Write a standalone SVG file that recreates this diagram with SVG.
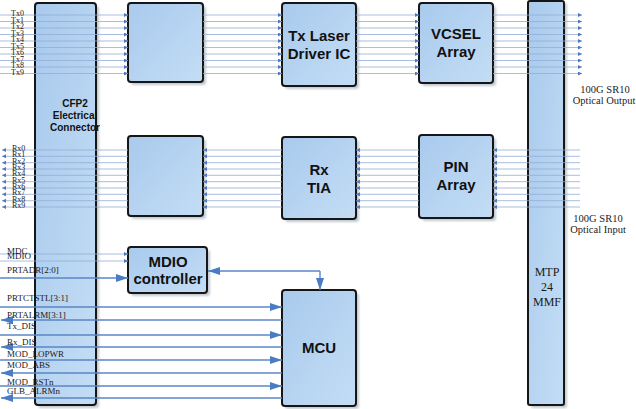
<svg xmlns="http://www.w3.org/2000/svg" width="636" height="409" viewBox="0 0 636 409">
<defs>
<linearGradient id="fill" x1="0" y1="0" x2="1" y2="1">
<stop offset="0" stop-color="#a8caed"/>
<stop offset="1" stop-color="#c4ddf5"/>
</linearGradient>
<filter id="blur" x="-10%" y="-10%" width="120%" height="120%"><feGaussianBlur stdDeviation="1.2"/></filter>
<marker id="sa" markerUnits="userSpaceOnUse" markerWidth="5" markerHeight="5" refX="4" refY="2" orient="auto"><path d="M0,0 L4,2 L0,4 z" fill="#4f78c0"/></marker>
<marker id="ba" markerUnits="userSpaceOnUse" markerWidth="13" markerHeight="9" refX="12" refY="4" orient="auto"><path d="M0,0 L12,4 L0,8 z" fill="#4a7cc4"/></marker>
</defs>
<style>
.box{fill:url(#fill);stroke:#161616;stroke-width:2}
.sh{fill:#9aa6b2;opacity:.6;filter:url(#blur)}
.lane{stroke:#94acd6;stroke-width:0.8;fill:none;marker-end:url(#sa)}
.sig{stroke:#5a86c6;stroke-width:1.4;fill:none;marker-end:url(#ba)}
.bl{font-family:"Liberation Sans",Arial,sans-serif;font-weight:bold;font-size:15px;fill:#111;text-anchor:middle}
.sl{font-family:"Liberation Serif","Times New Roman",serif;font-size:9px;fill:#1a1a1a}
.ln{font-family:"Liberation Serif","Times New Roman",serif;font-size:8px;fill:#1a1a1a}
.ol{font-family:"Liberation Serif","Times New Roman",serif;font-size:10.5px;fill:#222;text-anchor:middle}
</style>
<rect width="636" height="409" fill="#ffffff"/>

<g id="cfp2">
<rect class="sh" x="38" y="6" width="61" height="402" rx="3"/>
<rect class="box" x="35" y="3" width="61" height="402" rx="3"/>
<text class="bl" style="font-size:10px" x="75" y="107">CFP2</text>
<text class="bl" style="font-size:10px" x="75" y="119">Electrical</text>
<text class="bl" style="font-size:10px" x="75" y="131">Connector</text>
</g>
<g id="mtp">
<rect class="sh" x="531" y="3" width="36" height="405" rx="2"/>
<rect class="box" x="528" y="1" width="36" height="404" rx="2"/>
<text class="ol" style="font-size:12px;fill:#1a1a1a" x="547" y="276">MTP</text>
<text class="ol" style="font-size:12px;fill:#1a1a1a" x="547" y="291">24</text>
<text class="ol" style="font-size:12px;fill:#1a1a1a" x="547" y="306">MMF</text>
</g>
<g id="txser">
<rect class="sh" x="131" y="6" width="75" height="79" rx="3"/>
<rect class="box" x="128" y="3" width="75" height="79" rx="3"/>
</g>
<g id="txdrv">
<rect class="sh" x="285" y="6" width="74" height="83" rx="3"/>
<rect class="box" x="282" y="3" width="74" height="83" rx="3"/>
<text class="bl" x="319" y="40.5">Tx Laser</text>
<text class="bl" x="319" y="58.5">Driver IC</text>
</g>
<g id="vcsel">
<rect class="sh" x="422" y="6" width="74" height="80" rx="3"/>
<rect class="box" x="419" y="3" width="74" height="80" rx="3"/>
<text class="bl" x="456" y="38.5">VCSEL</text>
<text class="bl" x="456" y="57">Array</text>
</g>
<g id="rxser">
<rect class="sh" x="131" y="139" width="75" height="80" rx="3"/>
<rect class="box" x="128" y="136" width="75" height="80" rx="3"/>
</g>
<g id="rxtia">
<rect class="sh" x="285" y="140" width="74" height="82" rx="3"/>
<rect class="box" x="282" y="137" width="74" height="82" rx="3"/>
<text class="bl" x="319" y="174.5">Rx</text>
<text class="bl" x="319" y="192.5">TIA</text>
</g>
<g id="pin">
<rect class="sh" x="422" y="138" width="74" height="83" rx="3"/>
<rect class="box" x="419" y="135" width="74" height="83" rx="3"/>
<text class="bl" x="456" y="172">PIN</text>
<text class="bl" x="456" y="189.5">Array</text>
</g>
<g id="mdio">
<rect class="sh" x="131" y="250" width="79" height="46" rx="3"/>
<rect class="box" x="128" y="247" width="79" height="46" rx="3"/>
<text class="bl" x="168" y="267">MDIO</text>
<text class="bl" x="168" y="284">controller</text>
</g>
<g id="mcu">
<rect class="sh" x="285" y="293" width="74" height="116" rx="3"/>
<rect class="box" x="282" y="290" width="74" height="116" rx="3"/>
<text class="bl" x="319" y="352.5">MCU</text>
</g>

<g id="connectors">
<g class="lane">
<path d="M0,15 H128"/><path d="M0,21.5 H128"/><path d="M0,28 H128"/><path d="M0,34.5 H128"/><path d="M0,41 H128"/><path d="M0,47.5 H128"/><path d="M0,54 H128"/><path d="M0,60.5 H128"/><path d="M0,67 H128"/><path d="M0,73.5 H128"/>
<path d="M203,15 H282"/><path d="M203,21.5 H282"/><path d="M203,28 H282"/><path d="M203,34.5 H282"/><path d="M203,41 H282"/><path d="M203,47.5 H282"/><path d="M203,54 H282"/><path d="M203,60.5 H282"/><path d="M203,67 H282"/><path d="M203,73.5 H282"/>
<path d="M356,15 H419"/><path d="M356,21.5 H419"/><path d="M356,28 H419"/><path d="M356,34.5 H419"/><path d="M356,41 H419"/><path d="M356,47.5 H419"/><path d="M356,54 H419"/><path d="M356,60.5 H419"/><path d="M356,67 H419"/><path d="M356,73.5 H419"/>
<path d="M493,15 H582"/><path d="M493,21.5 H582"/><path d="M493,28 H582"/><path d="M493,34.5 H582"/><path d="M493,41 H582"/><path d="M493,47.5 H582"/><path d="M493,54 H582"/><path d="M493,60.5 H582"/><path d="M493,67 H582"/><path d="M493,73.5 H582"/>
</g>
<g class="lane">
<path d="M580,150 H493"/><path d="M580,156.3 H493"/><path d="M580,162.7 H493"/><path d="M580,169 H493"/><path d="M580,175.3 H493"/><path d="M580,181.7 H493"/><path d="M580,188 H493"/><path d="M580,194.3 H493"/><path d="M580,200.7 H493"/><path d="M580,207 H493"/>
<path d="M419,150 H356"/><path d="M419,156.3 H356"/><path d="M419,162.7 H356"/><path d="M419,169 H356"/><path d="M419,175.3 H356"/><path d="M419,181.7 H356"/><path d="M419,188 H356"/><path d="M419,194.3 H356"/><path d="M419,200.7 H356"/><path d="M419,207 H356"/>
<path d="M282,150 H203"/><path d="M282,156.3 H203"/><path d="M282,162.7 H203"/><path d="M282,169 H203"/><path d="M282,175.3 H203"/><path d="M282,181.7 H203"/><path d="M282,188 H203"/><path d="M282,194.3 H203"/><path d="M282,200.7 H203"/><path d="M282,207 H203"/>
<path d="M128,150 H2"/><path d="M128,156.3 H2"/><path d="M128,162.7 H2"/><path d="M128,169 H2"/><path d="M128,175.3 H2"/><path d="M128,181.7 H2"/><path d="M128,188 H2"/><path d="M128,194.3 H2"/><path d="M128,200.7 H2"/><path d="M128,207 H2"/>
</g>
<path class="lane" d="M0,254 H128"/>
<path class="lane" d="M0,261 H128"/>
<path class="sig" d="M0,278 H128"/>
<path class="sig" d="M0,307 H282"/>
<path class="sig" d="M282,320 H1"/>
<path class="sig" d="M0,335 H282"/>
<path class="sig" d="M282,347 H1"/>
<path class="sig" d="M0,360 H282"/>
<path class="sig" d="M282,373 H1"/>
<path class="sig" d="M0,386 H282"/>
<path class="sig" d="M282,398 H1"/>
<path d="M320,271 H208" stroke="#5a86c6" stroke-width="1.4" fill="none" marker-end="url(#ba)"/>
<path d="M320,271 V290" stroke="#5a86c6" stroke-width="1.4" fill="none" marker-end="url(#ba)"/>
</g>

<g id="labels">
<text class="ln" x="11" y="16">Tx0</text>
<text class="ln" x="11" y="22.5">Tx1</text>
<text class="ln" x="11" y="29">Tx2</text>
<text class="ln" x="11" y="35.5">Tx3</text>
<text class="ln" x="11" y="42">Tx4</text>
<text class="ln" x="11" y="48.5">Tx5</text>
<text class="ln" x="11" y="55">Tx6</text>
<text class="ln" x="11" y="61.5">Tx7</text>
<text class="ln" x="11" y="68">Tx8</text>
<text class="ln" x="11" y="74.5">Tx9</text>
<text class="ln" x="12" y="151">Rx0</text>
<text class="ln" x="12" y="157.3">Rx1</text>
<text class="ln" x="12" y="163.7">Rx2</text>
<text class="ln" x="12" y="170">Rx3</text>
<text class="ln" x="12" y="176.3">Rx4</text>
<text class="ln" x="12" y="182.7">Rx5</text>
<text class="ln" x="12" y="189">Rx6</text>
<text class="ln" x="12" y="195.3">Rx7</text>
<text class="ln" x="12" y="201.7">Rx8</text>
<text class="ln" x="12" y="208">Rx9</text>
<text class="sl" x="7" y="254">MDC</text>
<text class="sl" x="7" y="259">MDIO</text>
<text class="sl" x="7" y="273">PRTADR[2:0]</text>
<text class="sl" x="7" y="301">PRTCTSTL[3:1]</text>
<text class="sl" x="7" y="318">PRTALRM[3:1]</text>
<text class="sl" x="7" y="328.5">Tx_DIS</text>
<text class="sl" x="7" y="345">Rx_DIS</text>
<text class="sl" x="7" y="357">MOD_LOPWR</text>
<text class="sl" x="7" y="368">MOD_ABS</text>
<text class="sl" x="7" y="385">MOD_RSTn</text>
<text class="sl" x="7" y="394">GLB_ALRMn</text>
<text class="ol" x="605" y="93">100G SR10</text>
<text class="ol" x="604" y="104">Optical Output</text>
<text class="ol" x="598" y="222">100G SR10</text>
<text class="ol" x="598" y="233">Optical Input</text>
</g>
</svg>
